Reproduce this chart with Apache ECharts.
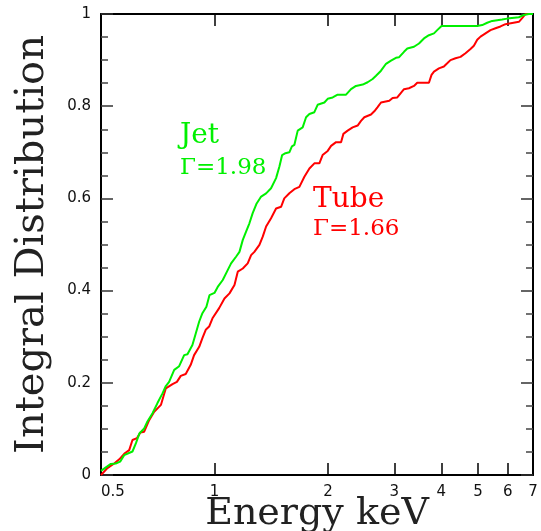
<!DOCTYPE html>
<html>
<head>
<meta charset="utf-8">
<script src="https://cdn.jsdelivr.net/npm/echarts@6/dist/echarts.min.js"></script>
<style>
html,body{margin:0;padding:0;background:#fff;}
#chart{width:541px;height:531px;}
</style>
</head>
<body>
<div id="chart"></div>
<script>
// ---- data (energy in keV, cumulative fraction) ----
var jetEnergy = [0.500,0.531,0.547,0.562,0.576,0.606,0.619,0.632,0.651,0.664,0.685,0.706,0.728,0.743,0.758,0.782,0.806,0.831,0.848,0.874,0.892,0.911,0.929,0.952,0.970,1.000,1.020,1.052,1.085,1.107,1.142,1.165,1.189,1.213,1.238,1.263,1.294,1.330,1.371,1.413,1.457,1.487,1.512,1.543,1.580,1.605,1.629,1.663,1.714,1.750,1.786,1.841,1.878,1.957,1.997,2.059,2.122,2.234,2.303,2.374,2.473,2.549,2.628,2.683,2.766,2.852,2.940,3.030,3.086,3.183,3.248,3.383,3.488,3.596,3.707,3.823,3.899,4.004,4.979,5.133,5.292,5.456,5.799,5.978,6.422,6.620,6.825,7.000];
var jetFrac = [0.009,0.024,0.025,0.029,0.043,0.051,0.069,0.090,0.101,0.116,0.134,0.156,0.177,0.193,0.202,0.228,0.236,0.260,0.262,0.282,0.307,0.333,0.351,0.365,0.390,0.395,0.408,0.423,0.445,0.459,0.474,0.484,0.510,0.528,0.546,0.568,0.589,0.604,0.611,0.622,0.644,0.669,0.694,0.698,0.700,0.713,0.716,0.747,0.754,0.776,0.783,0.787,0.803,0.808,0.816,0.819,0.825,0.825,0.837,0.844,0.847,0.852,0.859,0.866,0.877,0.892,0.899,0.905,0.906,0.918,0.925,0.929,0.936,0.947,0.954,0.958,0.965,0.974,0.974,0.976,0.981,0.985,0.988,0.990,0.993,0.998,1.000,1.000];
var tubeEnergy = [0.500,0.505,0.520,0.542,0.559,0.576,0.594,0.606,0.623,0.636,0.651,0.671,0.692,0.721,0.743,0.774,0.795,0.814,0.839,0.865,0.883,0.911,0.929,0.948,0.968,0.988,1.029,1.063,1.096,1.130,1.153,1.189,1.225,1.251,1.276,1.316,1.343,1.371,1.413,1.457,1.503,1.532,1.580,1.629,1.680,1.732,1.786,1.841,1.898,1.936,1.997,2.039,2.102,2.167,2.198,2.256,2.326,2.398,2.448,2.498,2.602,2.655,2.709,2.766,2.793,2.910,2.969,3.055,3.117,3.183,3.281,3.383,3.451,3.707,3.766,3.823,3.940,4.062,4.145,4.229,4.360,4.495,4.634,4.778,4.878,4.979,5.080,5.237,5.399,5.567,5.739,5.916,5.978,6.422,6.552,6.686,7.000];
var tubeFrac = [0.000,0.002,0.015,0.025,0.034,0.046,0.054,0.076,0.080,0.092,0.094,0.119,0.137,0.152,0.188,0.197,0.202,0.215,0.219,0.239,0.260,0.278,0.297,0.315,0.322,0.340,0.362,0.383,0.394,0.412,0.441,0.448,0.459,0.477,0.484,0.499,0.517,0.539,0.557,0.578,0.582,0.600,0.611,0.620,0.625,0.647,0.665,0.676,0.676,0.694,0.703,0.714,0.722,0.722,0.740,0.747,0.754,0.758,0.768,0.776,0.782,0.789,0.798,0.808,0.812,0.812,0.818,0.819,0.828,0.837,0.839,0.844,0.851,0.851,0.868,0.875,0.882,0.886,0.893,0.900,0.904,0.907,0.915,0.924,0.931,0.944,0.951,0.958,0.965,0.969,0.973,0.978,0.981,0.983,0.991,1.000,1.000];
var xTickLabels = [0.5, 1, 2, 3, 4, 5, 6, 7];
var xTickMarks = [1, 2, 3, 4, 5, 6];
var xRange = [0.5, 7];
var yRange = [0, 1];

// ---- build ----
function lg(v){ return Math.log10(v); }
function pairs(xs, ys){ return xs.map(function(x,i){ return [lg(x), ys[i]]; }); }
var xMin = lg(xRange[0]), xMax = lg(xRange[1]);
var labelVals = xTickLabels.map(lg);
var tickVals = xTickMarks.map(lg);
function fmtE(v){ var e = Math.pow(10, v); return String(Math.round(e*10)/10); }

var axisCol = '#000';
var green = '#00f000', red = '#ff0000';
var chart = echarts.init(document.getElementById('chart'), null, {renderer:'canvas'});
var baseX = {
  type:'value', min:xMin, max:xMax,
  axisLine:{show:true, onZero:false, lineStyle:{color:axisCol, width:2}},
  axisTick:{show:true, inside:true, length:12, customValues:tickVals, lineStyle:{color:axisCol, width:1.5}},
  splitLine:{show:false}
};
var baseY = {
  type:'value', min:yRange[0], max:yRange[1], interval:0.2,
  axisLine:{show:true, onZero:false, lineStyle:{color:axisCol, width:2}},
  axisTick:{show:true, inside:true, length:12, lineStyle:{color:'#333', width:1.5}},
  minorTick:{show:true, splitNumber:4, length:7, lineStyle:{color:'#444', width:1.5}},
  splitLine:{show:false}, minorSplitLine:{show:false}
};
var option = {
  animation:false,
  backgroundColor:'#fff',
  grid:{left:101, right:8, top:14, bottom:56, containLabel:false, outerBoundsMode:'none'},
  xAxis:[
    Object.assign({}, baseX, {
      position:'bottom',
      name:'Energy keV', nameLocation:'middle', nameGap:20, nameMoveOverlap:false,
      nameTextStyle:{fontFamily:'DejaVu Serif', fontSize:38, color:'#222'},
      axisLabel:{show:true, customValues:labelVals, formatter:fmtE, margin:10,
        fontFamily:'DejaVu Sans', fontSize:15, color:'#111', alignMinLabel:'left'}
    }),
    Object.assign({}, baseX, {position:'top', axisLabel:{show:false}})
  ],
  yAxis:[
    Object.assign({}, baseY, {
      position:'left',
      name:'Integral Distribution', nameLocation:'middle', nameGap:48, nameMoveOverlap:false,
      nameTextStyle:{fontFamily:'DejaVu Serif', fontSize:40, color:'#222'},
      axisLabel:{show:true, margin:10, fontFamily:'DejaVu Sans', fontSize:15, color:'#111'}
    }),
    Object.assign({}, baseY, {position:'right', axisLabel:{show:false}})
  ],
  series:[
    {name:'Tube', type:'line', data:pairs(tubeEnergy, tubeFrac), showSymbol:false, symbol:'none',
      lineStyle:{color:red, width:2}, itemStyle:{color:red}, z:2},
    {name:'Jet', type:'line', data:pairs(jetEnergy, jetFrac), showSymbol:false, symbol:'none',
      lineStyle:{color:green, width:2}, itemStyle:{color:green}, z:3}
  ],
  graphic:[
    {type:'text', left:180, top:122, style:{text:'Jet', fontFamily:'DejaVu Serif', fontSize:28, fill:green}},
    {type:'text', left:180, top:157, style:{text:'\u0393=1.98', fontFamily:'DejaVu Serif', fontSize:23, fill:green}},
    {type:'text', left:313, top:186, style:{text:'Tube', fontFamily:'DejaVu Serif', fontSize:28, fill:red}},
    {type:'text', left:313, top:218, style:{text:'\u0393=1.66', fontFamily:'DejaVu Serif', fontSize:23, fill:red}}
  ]
};
chart.setOption(option);
</script>
</body>
</html>
